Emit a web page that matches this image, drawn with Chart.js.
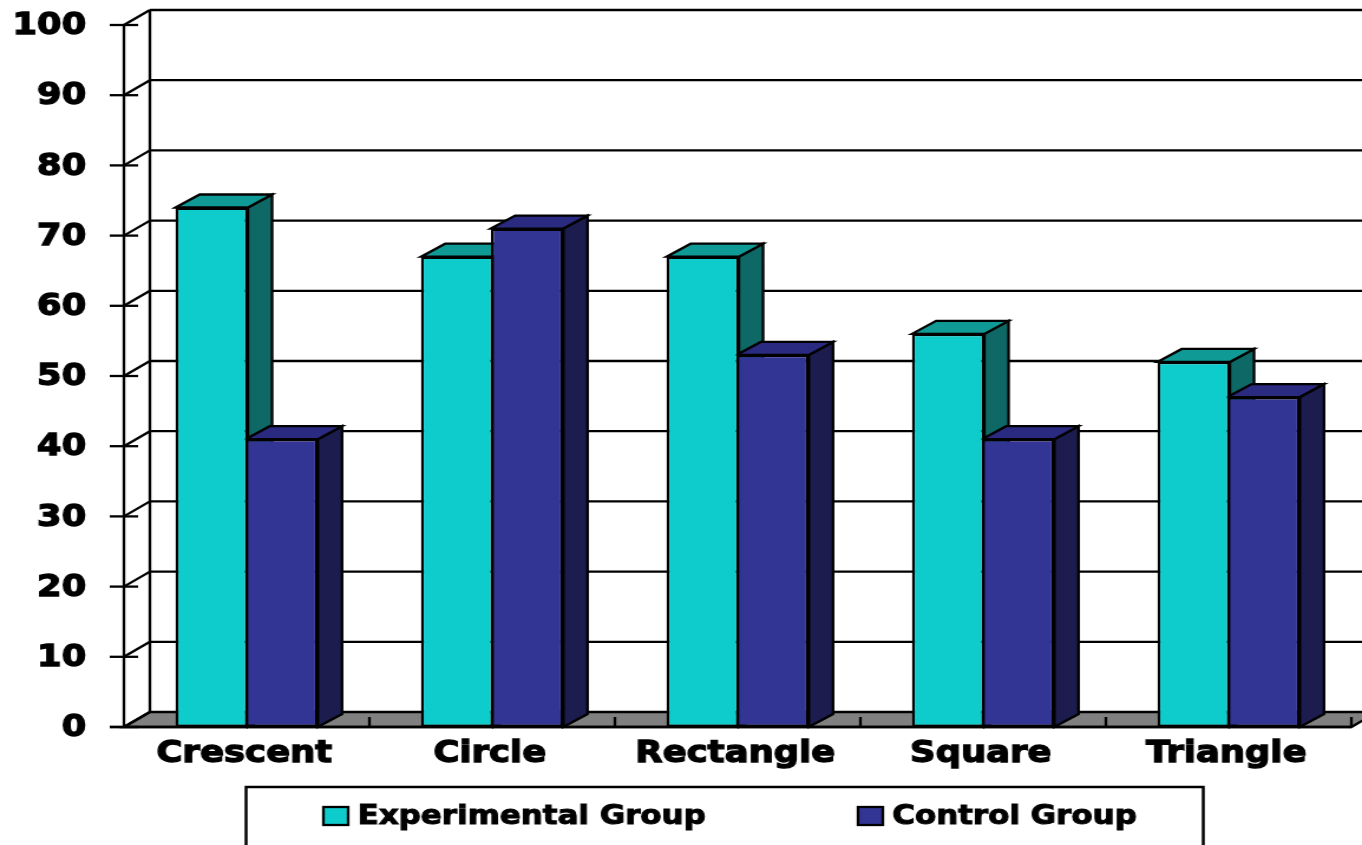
<!DOCTYPE html>
<html>
<head>
<meta charset="utf-8">
<title>Shapes</title>
<script src="https://cdn.jsdelivr.net/npm/chart.js@4"></script>
<style>
    html, body { margin: 0; background: #fff; overflow: hidden; }
    /* the wide Verdana look comes from stretching the whole canvas sideways */
    #shapesChart { transform: scaleX(1.18024); transform-origin: 0 0; }
</style>
</head>
<body>
<canvas id="shapesChart" width="1154" height="845"></canvas>
<script>
const categories = ["Crescent", "Circle", "Rectangle", "Square", "Triangle"];
const experimental = [74, 67, 67, 56, 52];
const control = [41, 71, 53, 41, 47];

const FONT = "'DejaVu Sans', Verdana, sans-serif";
const WALL_X = 22, WALL_Y = 15;   // depth of the back wall
const BAR_X = 20.5, BAR_Y = 13;   // depth of each bar

function face(ctx, pts, fill) {
    ctx.beginPath();
    pts.forEach((p, i) => i ? ctx.lineTo(p[0], p[1]) : ctx.moveTo(p[0], p[1]));
    ctx.closePath();
    if (fill) {
        ctx.fillStyle = fill;
        ctx.fill();
    }
    ctx.stroke();
}

function line(ctx, x1, y1, x2, y2) {
    ctx.beginPath();
    ctx.moveTo(x1, y1);
    ctx.lineTo(x2, y2);
    ctx.stroke();
}

// floor, back wall and gridlines, then the top and side of every bar
const box3d = {
    id: "box3d",
    beforeDatasetsDraw(chart) {
        const ctx = chart.ctx;
        const xs = chart.scales.x, ys = chart.scales.y;
        const a = chart.chartArea;
        ctx.save();
        ctx.strokeStyle = "#000";
        ctx.lineWidth = 2.3;

        face(ctx, [[a.left, a.bottom], [a.left + WALL_X, a.bottom - WALL_Y],
            [a.right + WALL_X, a.bottom - WALL_Y], [a.right, a.bottom]], "#808080");

        ys.ticks.forEach(t => {
            const y = ys.getPixelForValue(t.value);
            line(ctx, a.left - 12, y, a.left + 12, y);
            line(ctx, a.left, y, a.left + WALL_X, y - WALL_Y);
            if (t.value > 0) line(ctx, a.left + WALL_X, y - WALL_Y, chart.width, y - WALL_Y);
        });
        line(ctx, a.left, a.top, a.left, a.bottom);
        line(ctx, a.left + WALL_X, a.top - WALL_Y, a.left + WALL_X, a.bottom - WALL_Y);
        line(ctx, a.left - 12, a.bottom, a.right, a.bottom);

        const step = (a.right - a.left) / categories.length;
        categories.forEach((c, i) => {
            const x = xs.getPixelForValue(i) + step / 2;
            line(ctx, x, a.bottom - 10, x, a.bottom);
        });

        chart.data.datasets.forEach((ds, d) => {
            chart.getDatasetMeta(d).data.forEach(bar => {
                const l = bar.x - bar.width / 2, r = bar.x + bar.width / 2;
                const t = bar.y, b = bar.base;
                face(ctx, [[r, t], [r + BAR_X, t - BAR_Y], [r + BAR_X, b - BAR_Y], [r, b]], ds.sideColor);
                face(ctx, [[l, t], [l + BAR_X, t - BAR_Y], [r + BAR_X, t - BAR_Y], [r, t]], ds.topColor);
            });
        });
        ctx.restore();
    },
    // boxed legend, runs off the bottom edge of the canvas
    afterDraw(chart) {
        const ctx = chart.ctx;
        const swatchX = [274, 727];
        ctx.save();
        ctx.strokeStyle = "#000";
        ctx.lineWidth = 2.5;
        ctx.strokeRect(208.5, 787, 811, 80);
        ctx.font = "bold 26.2px " + FONT;
        ctx.textBaseline = "middle";
        chart.data.datasets.forEach((ds, i) => {
            ctx.lineWidth = 2.3;
            ctx.fillStyle = ds.backgroundColor;
            ctx.fillRect(swatchX[i], 807, 21, 18);
            ctx.strokeRect(swatchX[i], 807, 21, 18);
            ctx.fillStyle = "#000";
            ctx.lineWidth = 1;
            ctx.strokeText(ds.label, swatchX[i] + 29, 817.5);
            ctx.fillText(ds.label, swatchX[i] + 29, 817.5);
        });
        ctx.restore();
    }
};

new Chart(document.getElementById("shapesChart"), {
    type: "bar",
    data: {
        labels: categories,
        datasets: [{
            label: "Experimental Group",
            data: experimental,
            backgroundColor: "#0ecccc",
            topColor: "#109a96",
            sideColor: "#0e6966",
            borderColor: "#000",
            borderWidth: 2.4,
            borderSkipped: false,
            inflateAmount: 0
        }, {
            label: "Control Group",
            data: control,
            backgroundColor: "#333594",
            topColor: "#2a2a80",
            sideColor: "#1c1c4e",
            borderColor: "#000",
            borderWidth: 2.4,
            borderSkipped: false,
            inflateAmount: 0
        }]
    },
    options: {
        responsive: false,
        animation: false,
        devicePixelRatio: 1,
        layout: { padding: { top: 25, right: 9, left: 0, bottom: 0 } },
        categoryPercentage: 0.57,
        barPercentage: 1.035,
        plugins: {
            legend: { display: false },
            tooltip: { enabled: false }
        },
        scales: {
            x: {
                grid: { display: false },
                border: { display: false },
                ticks: {
                    color: "#000",
                    padding: 1,
                    labelOffset: -2,
                    maxRotation: 0,
                    textStrokeColor: "#000",
                    textStrokeWidth: 1.3,
                    font: { family: FONT, weight: "bold", size: 30 }
                },
                afterFit(s) { s.height = 118; s.paddingLeft = 0; s.paddingRight = 0; }
            },
            y: {
                min: 0,
                max: 100,
                grid: { display: false },
                border: { display: false },
                ticks: {
                    stepSize: 10,
                    color: "#000",
                    padding: 24,
                    labelOffset: 1.5,
                    textStrokeColor: "#000",
                    textStrokeWidth: 1.3,
                    font: { family: FONT, weight: "bold", size: 30 }
                },
                // the top label may hang above the plot without pushing it down
                afterFit(s) { s.width = 105; s.paddingTop = 0; s.paddingBottom = 0; }
            }
        }
    },
    plugins: [box3d]
});
</script>
</body>
</html>
